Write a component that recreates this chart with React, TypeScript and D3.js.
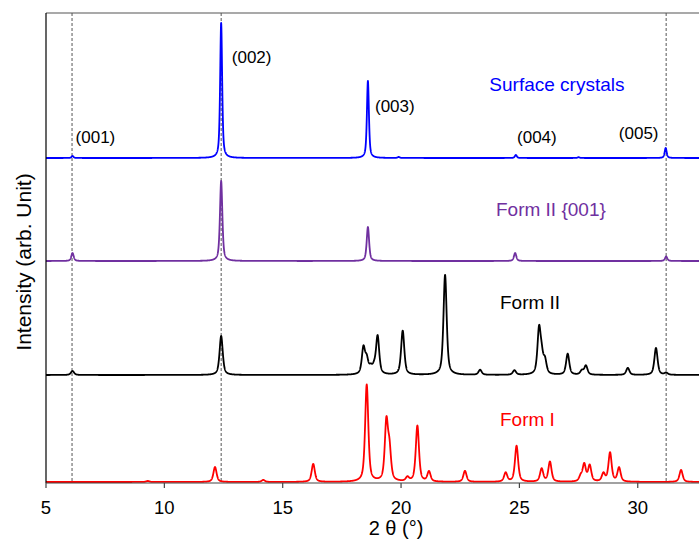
import React from 'react';
import * as d3 from 'd3';

// ---------- data ----------
const xTicks = [5, 10, 15, 20, 25, 30];
const referenceLines = [6.1, 12.4, 31.2];
const seriesNames = ['Surface crystals', 'Form II {001}', 'Form II', 'Form I'];
const seriesColors = ['#0000ff', '#7030a0', '#000000', '#ff0000'];
const seriesOffsets = [325, 222, 108, 1];
const seriesWidths = [0.1, 0.12, 0.16, 0.16];

// [2θ, peak intensity]
const surfacePeaks: [number, number][] = [
  [6.12, 2], [12.4, 135], [18.6, 77], [19.9, 1], [24.85, 3], [27.5, 0.8], [31.18, 10],
];
const formIIOrientedPeaks: [number, number][] = [
  [6.12, 8], [12.4, 80], [18.6, 34], [24.82, 8], [31.2, 4.5],
];
const formIIPeaks: [number, number][] = [
  [6.12, 4], [12.4, 39], [18.41, 26], [18.55, 14], [18.72, 6], [18.86, 6], [19.01, 38],
  [20.07, 44], [21.86, 100], [23.34, 5], [24.79, 4.5], [25.83, 44], [25.94, 16],
  [26.08, 13], [27.04, 21], [27.64, 4], [27.81, 9], [29.58, 7], [30.77, 27], [31.2, 2],
];
const formIPeaks: [number, number][] = [
  [9.3, 1], [12.14, 15], [14.18, 2], [16.29, 18], [18.55, 97], [19.38, 58], [19.51, 30],
  [20.27, 4], [20.69, 56], [21.18, 10], [22.7, 11], [24.42, 9], [24.88, 36],
  [25.94, 13], [26.29, 20], [27.59, 5], [27.74, 17], [27.97, 16], [28.55, 8],
  [28.83, 29], [29.21, 14], [31.83, 12],
];
const seriesPeaks = [surfacePeaks, formIIOrientedPeaks, formIIPeaks, formIPeaks];
const millerLabels = ['(001)', '(002)', '(003)', '(004)', '(005)'];

// ---------- layout ----------
const W = 699;
const H = 539;
const left = 46;
const top = 13;
const bottom = 483;
const xMin = 5;
const xMax = 35;
const pxPerUnit = 23.67;

const x = d3.scaleLinear().domain([xMin, xMax]).range([left, left + (xMax - xMin) * pxPerUnit]);
const y = d3.scaleLinear().domain([0, bottom - top]).range([bottom, top]);

function profile(peaks: [number, number][], fwhm: number, t: number) {
  const eta = 0.6;
  let s = 0;
  for (const [p, h] of peaks) {
    const d = (t - p) / (fwhm / 2);
    const lor = 1 / (1 + d * d);
    const gau = Math.exp(-Math.LN2 * d * d);
    s += h * (eta * lor + (1 - eta) * gau);
  }
  return s;
}

const grid = d3.range(xMin, xMax + 0.0001, 0.005);

export default function App() {
  const font = '"Liberation Sans", Arial, sans-serif';
  const line = d3.line<[number, number]>().x(d => x(d[0])).y(d => y(d[1]));
  const right = x(xMax);

  const paths = seriesPeaks.map((peaks, i) => {
    const pts: [number, number][] = grid.map(t => [t, seriesOffsets[i] + profile(peaks, seriesWidths[i], t)]);
    return line(pts) || '';
  });

  const labelPos = [
    { t: 6.25, v: 346 }, { t: 12.85, v: 426 }, { t: 18.9, v: 377 }, { t: 24.9, v: 346 }, { t: 29.2, v: 350 },
  ];
  // same order as seriesNames
  const seriesLabelPos = [
    { t: 23.73, v: 399 }, { t: 24.01, v: 274 }, { t: 24.18, v: 181 }, { t: 24.18, v: 64 },
  ];

  return (
    <svg width={W} height={H} style={{ position: 'absolute', left: 0, top: 0, display: 'block' }} fontFamily={font}>
      <defs>
        <clipPath id="plotclip">
          <rect x={left} y={top} width={right - left} height={bottom - top} />
        </clipPath>
      </defs>
      <rect x={0} y={0} width={W} height={H} fill="#fff" />
      <line x1={left} x2={right} y1={top} y2={top} stroke="#555" strokeWidth={1.2} />
      {referenceLines.map((r, i) => (
        <line key={i} x1={x(r)} x2={x(r)} y1={top} y2={y(2)} stroke="#555" strokeWidth={1} strokeDasharray="3,2" />
      ))}
      <g clipPath="url(#plotclip)">
        {paths.map((d, i) => (
          <path key={i} d={d} fill="none" stroke={seriesColors[i]} strokeWidth={1.8} strokeLinejoin="round" />
        ))}
      </g>
      <line x1={left} x2={left} y1={top} y2={bottom} stroke="#000" strokeWidth={1.2} />
      <line x1={left} x2={right} y1={bottom} y2={bottom} stroke="#444" strokeWidth={1.2} />
      {xTicks.map(t => (
        <g key={t}>
          <line x1={x(t)} x2={x(t)} y1={bottom} y2={bottom + 5} stroke="#444" strokeWidth={1.2} />
          <text x={x(t)} y={bottom + 24} fontSize={18.5} textAnchor="middle" dominantBaseline="central" fill="#000">{t}</text>
        </g>
      ))}
      <text x={396} y={528} fontSize={20} textAnchor="middle" dominantBaseline="central" fill="#000">2 θ (°)</text>
      <text transform={`translate(23,262) rotate(-90)`} fontSize={21} textAnchor="middle" dominantBaseline="central" fill="#000">Intensity (arb. Unit)</text>
      {millerLabels.map((m, i) => (
        <text key={m} x={x(labelPos[i].t)} y={y(labelPos[i].v)} fontSize={17} dominantBaseline="central" fill="#000">{m}</text>
      ))}
      {seriesNames.map((n, i) => (
        <text key={n} x={x(seriesLabelPos[i].t)} y={y(seriesLabelPos[i].v)} fontSize={19} dominantBaseline="central" fill={seriesColors[i]}>{n}</text>
      ))}
    </svg>
  );
}
